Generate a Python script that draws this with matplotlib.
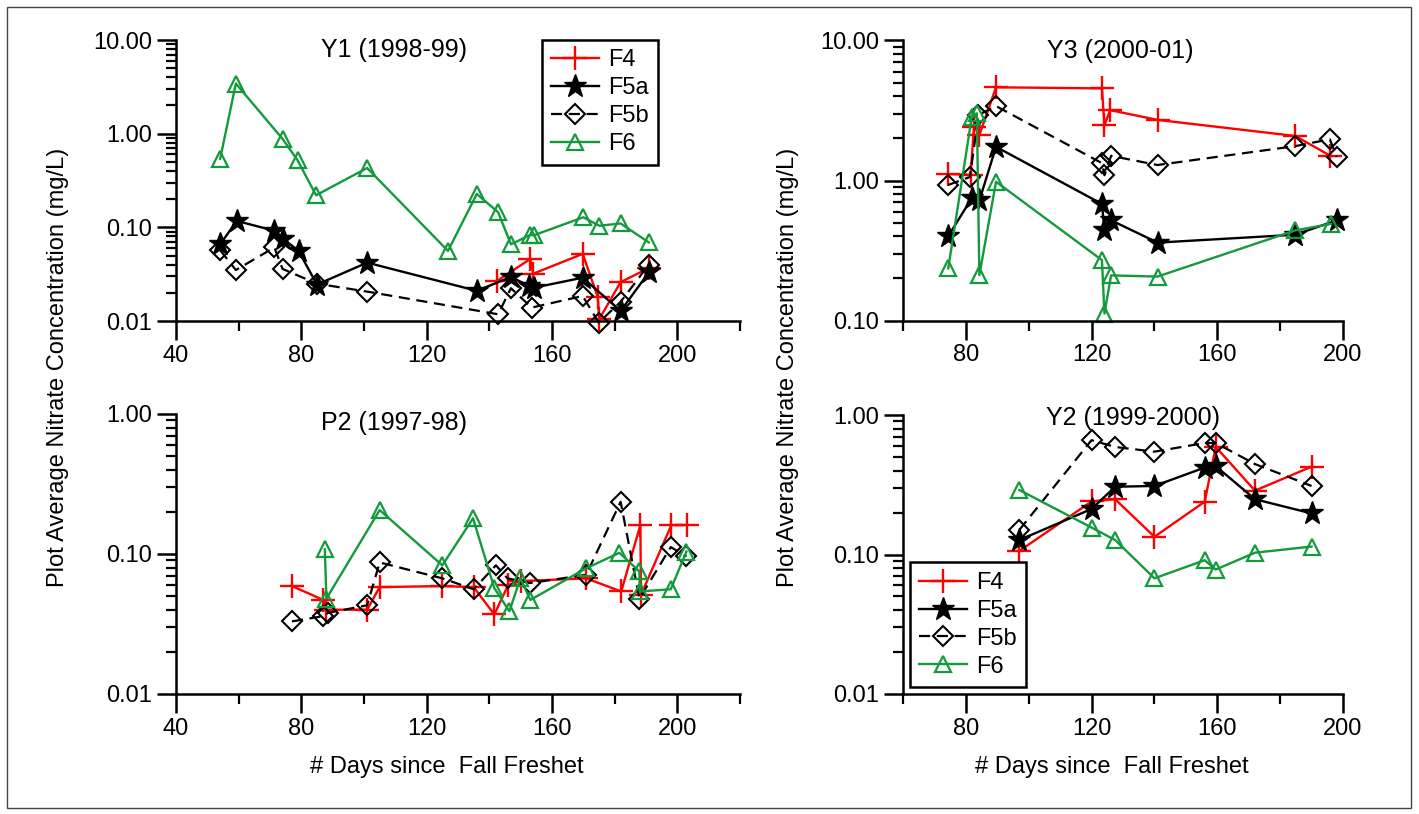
import numpy as np
import matplotlib
matplotlib.use('Agg')
import matplotlib.pyplot as plt
from matplotlib.ticker import LogLocator, MultipleLocator, FuncFormatter, NullFormatter
from matplotlib.patches import Rectangle

# Y1 (1998-99)
y1_f4_x = [142.6, 153.1, 154.0, 169.8, 174.6, 175.1, 181.9, 191.1]
y1_f4_y = [0.027, 0.046, 0.032, 0.052, 0.018, 0.0105, 0.026, 0.037]
y1_f5a_x = [54.1, 59.4, 71.4, 74.3, 79.1, 85, 101, 136, 146.9, 152.7, 154.3, 169.8, 181.9, 190.9]
y1_f5a_y = [0.066, 0.117, 0.092, 0.075, 0.056, 0.0245, 0.042, 0.021, 0.0295, 0.0237, 0.0227, 0.029, 0.0128, 0.033]
y1_f5b_x = [54.1, 59.1, 71.4, 74, 85, 101, 142.8, 146.9, 153.5, 169.8, 174.9, 181.9, 190.9]
y1_f5b_y = [0.057, 0.035, 0.061, 0.036, 0.025, 0.0206, 0.0118, 0.0224, 0.0139, 0.0185, 0.0096, 0.016, 0.040]
y1_f6_x = [54.1, 59.1, 74, 78.8, 84.7, 101, 126.8, 136, 142.8, 146.9, 153.1, 154.1, 170, 175.1, 181.9, 190.9]
y1_f6_y = [0.54, 3.43, 0.88, 0.52, 0.22, 0.43, 0.056, 0.227, 0.145, 0.066, 0.083, 0.082, 0.128, 0.104, 0.11, 0.069]

# Y3 (2000-01)
y3_f4_x = [74.4, 81.5, 82.6, 84.3, 89.6, 123.3, 124.1, 125.9, 141, 184.8, 196]
y3_f4_y = [1.11, 1.10, 2.42, 2.11, 4.63, 4.55, 2.48, 3.18, 2.71, 2.08, 1.50]
y3_f5a_x = [74.4, 81.9, 84.3, 89.6, 123.3, 124.1, 126.2, 141, 184.8, 198.1]
y3_f5a_y = [0.40, 0.75, 0.72, 1.74, 0.68, 0.44, 0.52, 0.36, 0.41, 0.52]
y3_f5b_x = [74.4, 81.3, 84, 89.6, 123.3, 124.1, 126.2, 141, 184.8, 195.8, 198]
y3_f5b_y = [0.93, 1.06, 2.94, 3.4, 1.33, 1.09, 1.5, 1.29, 1.76, 1.97, 1.47]
y3_f6_x = [74.4, 81.9, 83.5, 84.3, 89.6, 123.3, 124.1, 126.2, 141, 184.8, 196.2]
y3_f6_y = [0.236, 2.86, 3.02, 0.211, 0.98, 0.27, 0.112, 0.21, 0.206, 0.44, 0.49]

# P2 (1997-98)
p2_f4_x = [77, 87, 88, 101, 105, 125, 135, 141.6, 146, 150, 170.9, 182.1, 188.2, 188.4, 198.1, 203.2]
p2_f4_y = [0.059, 0.047, 0.040, 0.040, 0.058, 0.059, 0.058, 0.037, 0.060, 0.064, 0.067, 0.054, 0.161, 0.051, 0.161, 0.161]
p2_f5b_x = [77, 87, 88.5, 101, 105, 125, 135, 142.1, 145.8, 153, 170.9, 181.9, 187.9, 197.9, 202.9]
p2_f5b_y = [0.033, 0.036, 0.038, 0.043, 0.087, 0.067, 0.056, 0.083, 0.067, 0.062, 0.071, 0.236, 0.048, 0.112, 0.096]
p2_f6_x = [87.5, 88, 105, 125, 134.8, 141.6, 146.4, 149.9, 153.1, 170.9, 181.5, 187.9, 188, 197.9, 202.9]
p2_f6_y = [0.108, 0.048, 0.206, 0.083, 0.18, 0.057, 0.039, 0.067, 0.047, 0.079, 0.102, 0.075, 0.054, 0.056, 0.104]

# Y2 (1999-2000)
y2_x = [97, 120, 127.5, 140, 156, 159.5, 172, 190]
y2_f4 = [0.106, 0.24, 0.249, 0.134, 0.239, 0.59, 0.287, 0.426]
y2_f5a = [0.127, 0.212, 0.306, 0.31, 0.42, 0.43, 0.249, 0.197]
y2_f5b = [0.15, 0.66, 0.59, 0.546, 0.63, 0.63, 0.445, 0.31]
y2_f6 = [0.29, 0.156, 0.127, 0.0675, 0.091, 0.078, 0.103, 0.114]

plt.rcParams['font.family'] = ['Liberation Sans', 'DejaVu Sans']
plt.rcParams['font.size'] = 17

W, H = 1419, 814
fig = plt.figure(figsize=(W / 100, H / 100), dpi=100)

def box(x0, y0, x1, y1):
    return [x0 / W, 1 - y1 / H, (x1 - x0) / W, (y1 - y0) / H]

RED = '#ff0000'
GRN = '#139a3c'
styles = {
    'F4': dict(color=RED, marker='+', ms=17, mew=1.7, lw=1.7, ls='-'),
    'F5a': dict(color='black', marker='*', ms=17, lw=1.7, ls='-'),
    'F5b': dict(color='black', marker='D', ms=10, mfc='none', mew=1.5, lw=1.6, ls=(0, (5, 3))),
    'F6': dict(color=GRN, marker='^', ms=12, mfc='none', mew=1.6, lw=1.7, ls='-'),
}

def setup(ax, xlim, ylim, title, tx, ty):
    ax.set_yscale('log')
    ax.set_xlim(*xlim)
    ax.set_ylim(*ylim)
    ax.xaxis.set_major_locator(MultipleLocator(40))
    ax.xaxis.set_minor_locator(MultipleLocator(20))
    ax.yaxis.set_major_locator(LogLocator(base=10, numticks=10))
    ax.yaxis.set_minor_locator(LogLocator(base=10, subs=np.arange(2, 10), numticks=20))
    ax.yaxis.set_major_formatter(FuncFormatter(lambda v, p: '%.2f' % v))
    ax.yaxis.set_minor_formatter(NullFormatter())
    for s in ['top', 'right']:
        ax.spines[s].set_visible(False)
    for s in ['left', 'bottom']:
        ax.spines[s].set_linewidth(1.8)
    ax.tick_params(which='major', length=14, width=1.8, direction='out', labelsize=17, pad=3)
    ax.tick_params(which='minor', length=7.5, width=1.6, direction='out')
    ax.text(tx, ty, title, transform=ax.transAxes, ha='center', va='center', fontsize=18)

def draw(ax, name, x, y):
    return ax.plot(x, y, label=name, clip_on=False, **styles[name])[0]

def legend(ax, loc, anchor):
    leg = ax.legend(loc=loc, bbox_to_anchor=anchor, numpoints=1, fancybox=False,
                    edgecolor='black', framealpha=1, borderaxespad=0, handlelength=2.0,
                    fontsize=17, labelspacing=0.25, borderpad=0.4, handletextpad=0.4)
    leg.get_frame().set_linewidth(1.8)

ax1 = fig.add_axes(box(176, 40, 740, 321))
setup(ax1, (40, 220), (0.01, 10), 'Y1 (1998-99)', 0.387, 0.964)
draw(ax1, 'F4', y1_f4_x, y1_f4_y)
draw(ax1, 'F5a', y1_f5a_x, y1_f5a_y)
draw(ax1, 'F5b', y1_f5b_x, y1_f5b_y)
draw(ax1, 'F6', y1_f6_x, y1_f6_y)
legend(ax1, 'upper left', (0.649, 1.0))

ax2 = fig.add_axes(box(903, 40.5, 1343, 320.5))
setup(ax2, (60, 200), (0.1, 10), 'Y3 (2000-01)', 0.493, 0.964)
draw(ax2, 'F4', y3_f4_x, y3_f4_y)
draw(ax2, 'F5a', y3_f5a_x, y3_f5a_y)
draw(ax2, 'F5b', y3_f5b_x, y3_f5b_y)
draw(ax2, 'F6', y3_f6_x, y3_f6_y)

ax3 = fig.add_axes(box(176, 414, 740, 694))
setup(ax3, (40, 220), (0.01, 1), 'P2 (1997-98)', 0.387, 0.968)
draw(ax3, 'F4', p2_f4_x, p2_f4_y)
draw(ax3, 'F5b', p2_f5b_x, p2_f5b_y)
draw(ax3, 'F6', p2_f6_x, p2_f6_y)

ax4 = fig.add_axes(box(903, 415, 1343, 694))
setup(ax4, (60, 200), (0.01, 1), 'Y2 (1999-2000)', 0.523, 0.99)
draw(ax4, 'F4', y2_x, y2_f4)
draw(ax4, 'F5a', y2_x, y2_f5a)
draw(ax4, 'F5b', y2_x, y2_f5b)
draw(ax4, 'F6', y2_x, y2_f6)
legend(ax4, 'lower left', (0.016, 0.025))

ylab = 'Plot Average Nitrate Concentration (mg/L)'
fig.text(58 / W, 1 - 367 / H, ylab, rotation=90, ha='center', va='center', fontsize=17)
fig.text(788 / W, 1 - 367 / H, ylab, rotation=90, ha='center', va='center', fontsize=17)
fig.text(447 / W, 1 - 767 / H, '# Days since  Fall Freshet', ha='center', va='center', fontsize=17)
fig.text(1112 / W, 1 - 767 / H, '# Days since  Fall Freshet', ha='center', va='center', fontsize=17)

fig.patches.append(Rectangle((7 / W, 1 - 808 / H), 1404 / W, 801 / H, transform=fig.transFigure,
                             fill=False, ec='#444444', lw=1))

fig.savefig('out.png', dpi=100)
